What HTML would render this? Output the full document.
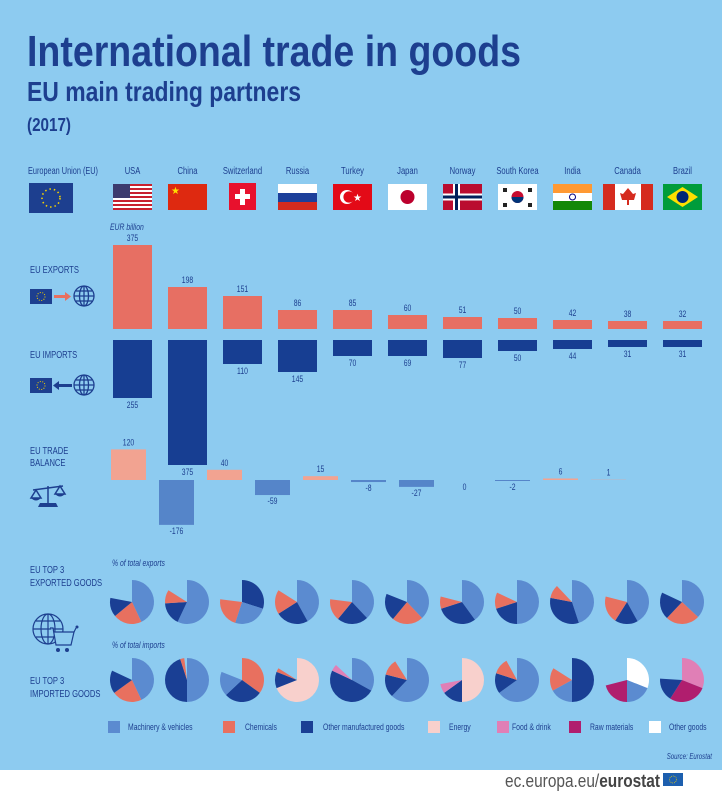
<!DOCTYPE html>
<html><head><meta charset="utf-8">
<style>
html,body{margin:0;padding:0;background:#fff}
svg{display:block}
text{font-family:"Liberation Sans Narrow","Liberation Sans",sans-serif;fill:#1d3f8f}
</style></head><body>
<svg id="s" width="722" height="792" viewBox="0 0 722 792" xmlns="http://www.w3.org/2000/svg">
<rect x="0" y="0" width="722" height="770" fill="#8dcbf0"/>
<text x="27" y="66" font-size="44" font-weight="bold" textLength="494" lengthAdjust="spacingAndGlyphs" fill="#1d3f8f">International trade in goods</text>
<text x="27" y="101" font-size="28" font-weight="bold" textLength="274" lengthAdjust="spacingAndGlyphs">EU main trading partners</text>
<text x="27" y="131" font-size="18" font-weight="bold" textLength="44" lengthAdjust="spacingAndGlyphs">(2017)</text>

<g font-size="10">
<text x="28" y="174" textLength="70" lengthAdjust="spacingAndGlyphs">European Union (EU)</text>
</g>
<rect x="29" y="183" width="44" height="30" fill="#1d3f8f"/>
<circle cx="51" cy="198" r="9" fill="none" stroke="#f5d200" stroke-width="1.6" stroke-dasharray="1.5 3"/>

<g id="flags"></g>
<g id="dyn"></g>

<g font-size="10">
<text x="30" y="273">EU EXPORTS</text>
<text x="30" y="358">EU IMPORTS</text>
<text x="30" y="454">EU TRADE</text>
<text x="30" y="466">BALANCE</text>
<text x="30" y="573">EU TOP 3</text>
<text x="30" y="586">EXPORTED GOODS</text>
<text x="30" y="684">EU TOP 3</text>
<text x="30" y="697">IMPORTED GOODS</text>
</g>
<rect x="30" y="289" width="22" height="15" fill="#1d3f8f"/><circle cx="41" cy="296.5" r="4" fill="none" stroke="#f5d200" stroke-dasharray="1 1.5"/>
<rect x="54" y="295" width="12" height="3" fill="#e8705f"/><path d="M65 292 L71 296.5 L65 301Z" fill="#e8705f"/>
<g fill="none" stroke="#1d3f8f" stroke-width="1.3"><circle cx="84" cy="296" r="10"/><ellipse cx="84" cy="296" rx="4.5" ry="10"/><line x1="74" y1="296" x2="94" y2="296"/><line x1="76" y1="291" x2="92" y2="291"/><line x1="76" y1="301" x2="92" y2="301"/><line x1="84" y1="286" x2="84" y2="306"/></g>
<rect x="30" y="378" width="22" height="15" fill="#1d3f8f"/><circle cx="41" cy="385.5" r="4" fill="none" stroke="#f5d200" stroke-dasharray="1 1.5"/>
<rect x="58" y="384" width="14" height="3" fill="#1d3f8f"/><path d="M59 381 L53 385.5 L59 390Z" fill="#1d3f8f"/>
<g fill="none" stroke="#1d3f8f" stroke-width="1.3"><circle cx="84" cy="385" r="10"/><ellipse cx="84" cy="385" rx="4.5" ry="10"/><line x1="74" y1="385" x2="94" y2="385"/><line x1="76" y1="380" x2="92" y2="380"/><line x1="76" y1="390" x2="92" y2="390"/><line x1="84" y1="375" x2="84" y2="395"/></g>
<g stroke="#1d3f8f" stroke-width="1.5" fill="none"><line x1="33" y1="490" x2="63" y2="486"/><line x1="48" y1="486" x2="48" y2="503"/><path d="M36 490 L31 498 L41 498Z M60 486 L55 494 L65 494Z"/></g>
<path d="M31 498 Q36 503 41 498Z M55 494 Q60 499 65 494Z M40 503 L56 503 L58 507 L38 507Z" fill="#1d3f8f"/>
<g fill="none" stroke="#1d3f8f" stroke-width="1.2"><circle cx="48" cy="629" r="15"/><ellipse cx="48" cy="629" rx="7" ry="15"/><line x1="33" y1="629" x2="63" y2="629"/><line x1="36" y1="621" x2="60" y2="621"/><line x1="36" y1="637" x2="60" y2="637"/><line x1="48" y1="614" x2="48" y2="644"/>
<path d="M50 628 L53 628 L56 645 L71 645 L74 632 L54 632" fill="#8dcbf0"/><line x1="74" y1="632" x2="76" y2="628"/></g>
<circle cx="58" cy="650" r="2" fill="#1d3f8f"/><circle cx="67" cy="650" r="2" fill="#1d3f8f"/><circle cx="77" cy="627" r="1.5" fill="#1d3f8f"/>

<text x="110" y="230" font-size="9" font-style="italic">EUR billion</text>
<text x="112" y="566" font-size="9" font-style="italic">% of total exports</text>
<text x="112" y="648" font-size="9" font-style="italic">% of total imports</text>

<g font-size="9">
<rect x="108" y="721" width="12" height="12" fill="#5b8bd0"/><text x="128" y="730">Machinery &amp; vehicles</text>
<rect x="223" y="721" width="12" height="12" fill="#e8705f"/><text x="245" y="730">Chemicals</text>
<rect x="301" y="721" width="12" height="12" fill="#1a3f94"/><text x="323" y="730">Other manufactured goods</text>
<rect x="428" y="721" width="12" height="12" fill="#f8d0cc"/><text x="449" y="730">Energy</text>
<rect x="497" y="721" width="12" height="12" fill="#e07fb6"/><text x="512" y="730">Food &amp; drink</text>
<rect x="569" y="721" width="12" height="12" fill="#b01e6e"/><text x="590" y="730">Raw materials</text>
<rect x="649" y="721" width="12" height="12" fill="#ffffff"/><text x="669" y="730">Other goods</text>
<text x="712" y="759" font-size="8" text-anchor="end" font-style="italic">Source: Eurostat</text>
</g>
<text x="660" y="787" font-size="18" text-anchor="end" textLength="155" lengthAdjust="spacingAndGlyphs" style="font-family:'Liberation Sans',sans-serif;fill:#555">ec.europa.eu/<tspan font-weight="bold" style="fill:#444">eurostat</tspan></text>
<rect x="663" y="773" width="20" height="13" fill="#1d5fae"/><circle cx="673" cy="779.5" r="3.5" fill="none" stroke="#f5d200" stroke-width="0.8" stroke-dasharray="0.8 1"/>
</svg>
<script>
var NS="http://www.w3.org/2000/svg",d=document.getElementById("dyn"),fl=document.getElementById("flags");
function el(t,a,p,txt){var e=document.createElementNS(NS,t);for(var k in a)e.setAttribute(k,a[k]);if(txt!=null)e.textContent=txt;(p||d).appendChild(e);return e;}
var names=["USA","China","Switzerland","Russia","Turkey","Japan","Norway","South Korea","India","Canada","Brazil"];
var C={m:"#5b8bd0",c:"#e8705f",o:"#1a3f94",e:"#f8d0cc",f:"#e07fb6",r:"#b01e6e",w:"#ffffff"};
var exT=[245,287,296,310,310,315,317,318,320,321,321],exV=[375,198,151,86,85,60,51,50,42,38,32];
var imB=[398,465,364,372,356,356,358,351,349,347,347],imV=[255,375,110,145,70,69,77,50,44,31,31];
var bal=[120,-176,40,-59,15,-8,-27,0,-2,6,1];
for(var i=0;i<11;i++){
 var x=113+55*i,cx=x+19.5;
 el("text",{x:cx,y:174,"font-size":10,"text-anchor":"middle"},fl,names[i]);
 el("rect",{x:x,y:exT[i],width:39,height:329-exT[i],fill:"#e76f63"});
 el("text",{x:cx,y:exT[i]-4,"font-size":9,"text-anchor":"middle"},null,exV[i]);
 el("rect",{x:x,y:340,width:39,height:imB[i]-340,fill:"#173e92"});
 el("text",{x:cx,y:imB[i]+10,"font-size":9,"text-anchor":"middle"},null,imV[i]);
 var bx=111+48*i,v=bal[i],h=Math.abs(v)*0.255;
 if(v>0){el("rect",{x:bx,y:480-h,width:35,height:h,fill:"#f2a391"});el("text",{x:bx+17.5,y:480-h-4,"font-size":9,"text-anchor":"middle"},null,v);}
 else{if(v<0)el("rect",{x:bx,y:480,width:35,height:Math.max(h,1),fill:"#5585c9"});el("text",{x:bx+17.5,y:480+Math.max(h,1)+9,"font-size":9,"text-anchor":"middle"},null,v);}
}
function F(i){return 113+55*i;}
var y0=184,fh=26,fw=39;
(function(){var x=F(0);for(var k=0;k<13;k++)el("rect",{x:x,y:y0+k*fh/13,width:fw,height:fh/13,fill:k%2?"#fff":"#c8202f"},fl);el("rect",{x:x,y:y0,width:17,height:14,fill:"#3c3b6e"},fl);
x=F(1);el("rect",{x:x,y:y0,width:fw,height:fh,fill:"#de2910"},fl);el("text",{x:x+3,y:y0+10,"font-size":10,style:"fill:#ffde00","data-k":1},fl,"★");
x=F(2)+6;el("rect",{x:x,y:y0-1,width:27,height:27,fill:"#e8112d"},fl);el("rect",{x:x+11,y:y0+5,width:5,height:16,fill:"#fff"},fl);el("rect",{x:x+6,y:y0+10,width:15,height:5,fill:"#fff"},fl);
x=F(3);el("rect",{x:x,y:y0,width:fw,height:9,fill:"#fff"},fl);el("rect",{x:x,y:y0+9,width:fw,height:9,fill:"#1c3f9a"},fl);el("rect",{x:x,y:y0+18,width:fw,height:8,fill:"#d52b1e"},fl);
x=F(4);el("rect",{x:x,y:y0,width:fw,height:fh,fill:"#e30a17"},fl);el("circle",{cx:x+14,cy:y0+13,r:7,fill:"#fff"},fl);el("circle",{cx:x+16,cy:y0+13,r:5.6,fill:"#e30a17"},fl);el("text",{x:x+20,y:y0+17,"font-size":10,style:"fill:#fff","data-k":1},fl,"★");
x=F(5);el("rect",{x:x,y:y0,width:fw,height:fh,fill:"#fff"},fl);el("circle",{cx:x+19.5,cy:y0+13,r:7,fill:"#bc002d"},fl);
x=F(6);el("rect",{x:x,y:y0,width:fw,height:fh,fill:"#ba0c2f"},fl);el("rect",{x:x+10,y:y0,width:7,height:fh,fill:"#fff"},fl);el("rect",{x:x,y:y0+9.5,width:fw,height:7,fill:"#fff"},fl);el("rect",{x:x+12,y:y0,width:3,height:fh,fill:"#00205b"},fl);el("rect",{x:x,y:y0+11.5,width:fw,height:3,fill:"#00205b"},fl);
x=F(7);el("rect",{x:x,y:y0,width:fw,height:fh,fill:"#fff"},fl);el("circle",{cx:x+19.5,cy:y0+13,r:6,fill:"#c60c30"},fl);el("path",{d:"M"+(x+13.5)+" "+(y0+13)+" a6 6 0 0 0 12 0z",fill:"#003478"},fl);
[[5,4],[30,4],[5,19],[30,19]].forEach(function(p){el("rect",{x:x+p[0],y:y0+p[1],width:4,height:4,fill:"#222"},fl);});
x=F(8);el("rect",{x:x,y:y0,width:fw,height:9,fill:"#ff9933"},fl);el("rect",{x:x,y:y0+9,width:fw,height:8,fill:"#fff"},fl);el("rect",{x:x,y:y0+17,width:fw,height:9,fill:"#138808"},fl);el("circle",{cx:x+19.5,cy:y0+13,r:3,fill:"none",stroke:"#000080"},fl);
x=F(9)-5;el("rect",{x:x,y:y0,width:50,height:fh,fill:"#fff"},fl);el("rect",{x:x,y:y0,width:12,height:fh,fill:"#d52b1e"},fl);el("rect",{x:x+38,y:y0,width:12,height:fh,fill:"#d52b1e"},fl);el("path",{d:"M"+(x+25)+" "+(y0+4)+" l5 6 l3 -1 l-2 7 h-12 l-2 -7 l3 1z",fill:"#d52b1e"},fl);el("rect",{x:x+24,y:y0+16,width:2,height:5,fill:"#d52b1e"},fl);
x=F(10);el("rect",{x:x,y:y0,width:fw,height:fh,fill:"#009c3b"},fl);el("path",{d:"M"+(x+19.5)+" "+(y0+3)+" L"+(x+35)+" "+(y0+13)+" L"+(x+19.5)+" "+(y0+23)+" L"+(x+4)+" "+(y0+13)+"Z",fill:"#ffdf00"},fl);el("circle",{cx:x+19.5,cy:y0+13,r:6,fill:"#002776"},fl);
})();
function pie(cx,cy,r,sl){var a=-90;sl.forEach(function(s){var p=s[1]*3.6,a1=a+p;var r0=a*Math.PI/180,r1=a1*Math.PI/180;
 var x0=cx+r*Math.cos(r0),y0=cy+r*Math.sin(r0),x1=cx+r*Math.cos(r1),y1=cy+r*Math.sin(r1);
 el("path",{d:"M"+cx+" "+cy+" L"+x0+" "+y0+" A"+r+" "+r+" 0 "+(p>180?1:0)+" 1 "+x1+" "+y1+"Z",fill:C[s[0]]});a=a1;});}
var ex=[[["m",43],["c",21],["o",14]],[["m",57],["o",17],["c",10]],[["o",30],["m",25],["c",22]],[["m",42],["o",24],["c",18]],[["m",38],["o",23],["c",16]],[["m",38],["c",23],["o",20]],[["m",40],["o",30],["c",9]],[["m",50],["o",20],["c",12]],[["m",45],["o",33],["c",10]],[["m",42],["o",17],["c",20]],[["m",37],["c",25],["o",20]]];
var im=[[["m",43],["c",22],["o",17]],[["m",50],["o",45],["c",3]],[["c",35],["o",28],["m",18]],[["e",69],["o",12],["c",3]],[["m",33],["o",49],["f",5]],[["m",62],["o",17],["c",12]],[["e",50],["o",15],["f",7]],[["m",65],["o",15],["c",12]],[["o",50],["m",17],["c",17]],[["w",31],["m",19],["r",21]],[["f",31],["r",28],["o",17]]];
for(var i=0;i<11;i++){var cx=132+55*i;pie(cx,602,22,ex[i]);pie(cx,680,22,im[i]);}
// condense all text lacking explicit length
var ts=document.querySelectorAll("text");
for(var j=0;j<ts.length;j++){var t=ts[j];if(t.hasAttribute("textLength")||t.hasAttribute("data-k"))continue;
 var L=t.getComputedTextLength();if(L>0){t.setAttribute("textLength",(L*0.76).toFixed(1));t.setAttribute("lengthAdjust","spacingAndGlyphs");}}
</script>
</body></html>
